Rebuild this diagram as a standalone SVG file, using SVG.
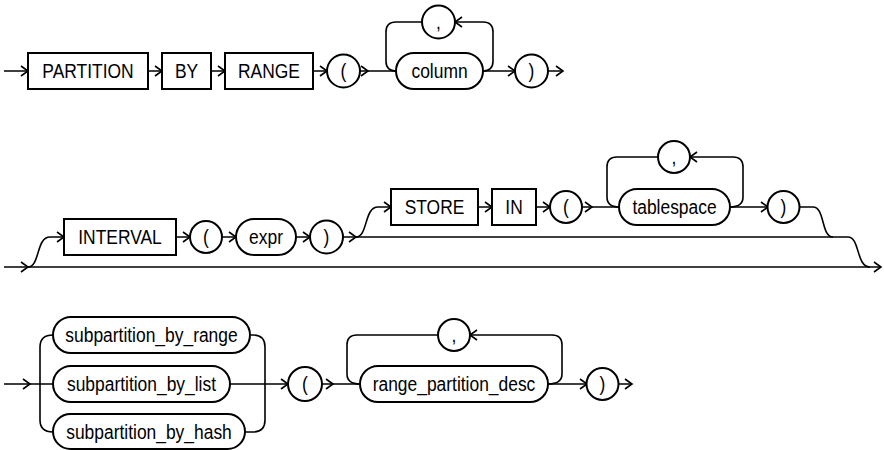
<svg xmlns="http://www.w3.org/2000/svg" xmlns:xlink="http://www.w3.org/1999/xlink" width="884" height="450" viewBox="0 0 884 450">
<style>
.b{fill:#fff;stroke:#000;stroke-width:2}
.l{fill:none;stroke:#000;stroke-width:1.6}
.a{fill:none;stroke:#000;stroke-width:1.6}
.t{font-family:"Liberation Sans",Arial,sans-serif;font-size:21px;fill:#000;text-anchor:middle}
</style>
<defs>
<path id="ah" class="a" d="M-7,-5 L0,0 L-7,5"/>
</defs>
<rect width="884" height="450" fill="#fff"/>
<g id="connectors">
<path class="l" d="M4,71 H28 M148,71 H162 M211,71 H225 M313,71 H327 M360,71 H396 M483,71 H515 M547,71 H563"/>
<path class="l" d="M396,71 Q386,71 386,61 V32 Q386,22 396,22 H422 M455,22 H483 Q493,22 493,32 V61 Q493,71 483,71"/>
<path class="l" d="M4,267 H881"/>
<path class="l" d="M28,267 C40,267 36,237 50,237 H64 M176,237 H190 M222,237 H236 M296,237 H310 M343,237 H848 C860,237 856,267 870,267"/>
<path class="l" d="M356,237 C368,237 364,207 378,207 H391 M478,207 H492 M536,207 H550 M582,207 H619 M730,207 H768 M799,207 H813 C825,207 821,237 833,237"/>
<path class="l" d="M619,207 Q607,207 607,197 V167 Q607,157 617,157 H658 M690,157 H733 Q743,157 743,167 V197 Q743,207 730,207"/>
<path class="l" d="M4,384 H53 M230,384 H288 M322,384 H360 M548,384 H587 M618,384 H632"/>
<path class="l" d="M53,335 Q40,335 40,347 V420 Q40,432 53,432"/>
<path class="l" d="M250,335 H253 Q265,335 265,347 V420 Q265,432 253,432 H245"/>
<path class="l" d="M360,384 Q347,384 347,374 V345 Q347,335 357,335 H438 M470,335 H552 Q562,335 562,345 V374 Q562,384 548,384"/>
<use href="#ah" x="28" y="71"/>
<use href="#ah" x="162" y="71"/>
<use href="#ah" x="225" y="71"/>
<use href="#ah" x="327" y="71"/>
<use href="#ah" x="368" y="71"/>
<use href="#ah" x="515" y="71"/>
<use href="#ah" x="563" y="71"/>
<use href="#ah" transform="translate(455,22) rotate(180)"/>
<use href="#ah" x="28" y="267"/>
<use href="#ah" x="64" y="237"/>
<use href="#ah" x="190" y="237"/>
<use href="#ah" x="236" y="237"/>
<use href="#ah" x="310" y="237"/>
<use href="#ah" x="356" y="237"/>
<use href="#ah" x="391" y="207"/>
<use href="#ah" x="492" y="207"/>
<use href="#ah" x="550" y="207"/>
<use href="#ah" x="592" y="207"/>
<use href="#ah" x="768" y="207"/>
<use href="#ah" transform="translate(690,157) rotate(180)"/>
<use href="#ah" x="881" y="267"/>
<use href="#ah" x="30" y="384"/>
<use href="#ah" x="288" y="384"/>
<use href="#ah" x="333" y="384"/>
<use href="#ah" x="587" y="384"/>
<use href="#ah" x="632" y="384"/>
<use href="#ah" transform="translate(470,335) rotate(180)"/>
</g>
<g id="n-partition"><rect class="b" x="28" y="53" width="120" height="36"/><text class="t" transform="translate(88,78) scale(0.83,1)">PARTITION</text></g>
<g id="n-by"><rect class="b" x="162" y="53" width="49" height="36"/><text class="t" transform="translate(186.5,78) scale(0.83,1)">BY</text></g>
<g id="n-range"><rect class="b" x="225" y="53" width="88" height="36"/><text class="t" transform="translate(269,78) scale(0.83,1)">RANGE</text></g>
<g id="n-lparen1"><circle class="b" cx="343.5" cy="71" r="16.5"/><text class="t" transform="translate(343.5,78) scale(0.83,1)">(</text></g>
<g id="n-column"><rect class="b" x="396" y="53" width="87" height="36" rx="18"/><text class="t" transform="translate(439.5,78) scale(0.83,1)">column</text></g>
<g id="n-comma1"><circle class="b" cx="438.5" cy="22" r="16.5"/><text class="t" transform="translate(438.5,29) scale(0.83,1)">,</text></g>
<g id="n-rparen1"><circle class="b" cx="531.5" cy="71" r="16.5"/><text class="t" transform="translate(531.5,78) scale(0.83,1)">)</text></g>
<g id="n-interval"><rect class="b" x="64" y="219" width="112" height="36"/><text class="t" transform="translate(120,244) scale(0.83,1)">INTERVAL</text></g>
<g id="n-lparen2"><circle class="b" cx="206" cy="237" r="16"/><text class="t" transform="translate(206,244) scale(0.83,1)">(</text></g>
<g id="n-expr"><rect class="b" x="236" y="219" width="60" height="36" rx="18"/><text class="t" transform="translate(266,244) scale(0.83,1)">expr</text></g>
<g id="n-rparen2"><circle class="b" cx="326.5" cy="237" r="16.5"/><text class="t" transform="translate(326.5,244) scale(0.83,1)">)</text></g>
<g id="n-store"><rect class="b" x="391" y="189" width="87" height="36"/><text class="t" transform="translate(434.5,214) scale(0.83,1)">STORE</text></g>
<g id="n-in"><rect class="b" x="492" y="189" width="44" height="36"/><text class="t" transform="translate(514,214) scale(0.83,1)">IN</text></g>
<g id="n-lparen3"><circle class="b" cx="566" cy="207" r="16"/><text class="t" transform="translate(566,214) scale(0.83,1)">(</text></g>
<g id="n-tablespace"><rect class="b" x="619" y="189" width="111" height="36" rx="18"/><text class="t" transform="translate(674.5,214) scale(0.83,1)">tablespace</text></g>
<g id="n-comma2"><circle class="b" cx="674" cy="157" r="16"/><text class="t" transform="translate(674,164) scale(0.83,1)">,</text></g>
<g id="n-rparen3"><circle class="b" cx="783.5" cy="207" r="16"/><text class="t" transform="translate(783.5,214) scale(0.83,1)">)</text></g>
<g id="n-sub-range"><rect class="b" x="53" y="317" width="197" height="36" rx="18"/><text class="t" transform="translate(151.5,342) scale(0.83,1)">subpartition_by_range</text></g>
<g id="n-sub-list"><rect class="b" x="53" y="366" width="177" height="36" rx="18"/><text class="t" transform="translate(141.5,391) scale(0.83,1)">subpartition_by_list</text></g>
<g id="n-sub-hash"><rect class="b" x="53" y="414" width="192" height="35" rx="17.5"/><text class="t" transform="translate(149,439) scale(0.83,1)">subpartition_by_hash</text></g>
<g id="n-lparen4"><circle class="b" cx="305" cy="384" r="17"/><text class="t" transform="translate(305,391) scale(0.83,1)">(</text></g>
<g id="n-rpd"><rect class="b" x="360" y="366" width="188" height="36" rx="18"/><text class="t" transform="translate(454,391) scale(0.83,1)">range_partition_desc</text></g>
<g id="n-comma3"><circle class="b" cx="454" cy="335" r="16"/><text class="t" transform="translate(454,342) scale(0.83,1)">,</text></g>
<g id="n-rparen4"><circle class="b" cx="602.5" cy="384" r="16"/><text class="t" transform="translate(602.5,391) scale(0.83,1)">)</text></g>
</svg>
